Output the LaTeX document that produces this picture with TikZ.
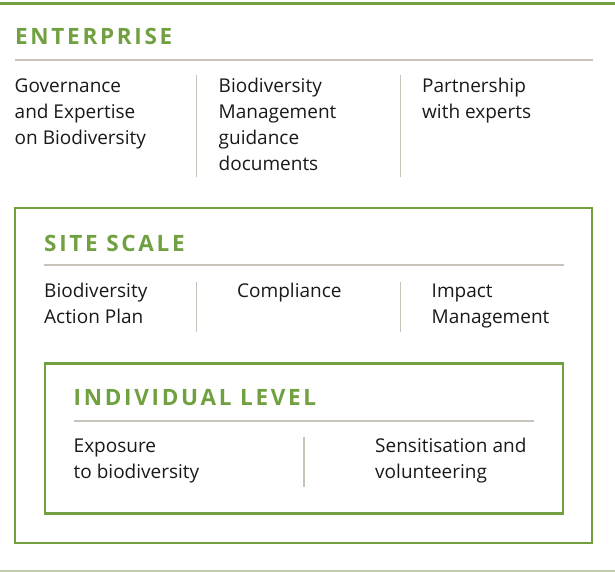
\documentclass[tikz,border=0pt]{standalone}
\usepackage{fontspec}
\setmainfont{Open Sans}
\newfontfamily\headfont[LetterSpace=12]{Open Sans}
\definecolor{leaf}{RGB}{112,160,64}
\definecolor{rulegrey}{RGB}{200,194,184}
\definecolor{ink}{RGB}{25,25,25}
\definecolor{baseline}{RGB}{190,204,170}
\tikzset{
  heading/.style={anchor=base west, inner sep=0pt, text=leaf, font=\headfont\bfseries\fontsize{22.5}{26}\selectfont},
  body/.style={anchor=base west, inner sep=0pt, align=left, text=ink, font=\fontsize{19}{26}\selectfont},
  greenbox/.style={draw=leaf, line width=2.6pt},
  hrule/.style={draw=rulegrey, line width=1.4pt},
  vrule/.style={draw=rulegrey, line width=1.2pt},
}
\begin{document}
\begin{tikzpicture}[x=1pt,y=-1pt]
\useasboundingbox (0,0) rectangle (615,572);
% top and bottom lines
\draw[draw=leaf, line width=2.6pt] (0,3.5) coordinate (tl) -- (615,3.5) coordinate (tr);
\draw[draw=baseline, line width=1.4pt] (0,570.8) coordinate (bl) -- (615,570.8) coordinate (br);

% ENTERPRISE (body nodes anchored at the baseline of their last line)
\node[heading] (ent) at (15,45) {ENTERPRISE};
\draw[hrule] (15,60) coordinate (er1) -- (593,60) coordinate (er2);
\node[body] (e1) at (14.5,144.5) {Governance\\and Expertise\\on Biodiversity};
\node[body] (e2) at (218.5,170.5) {Biodiversity\\Management\\guidance\\documents};
\node[body] (e3) at (422,118.5) {Partnership\\with experts};
\draw[vrule] (196.7,75) coordinate (ed1a) -- (196.7,177) coordinate (ed1b);
\draw[vrule] (400.5,75) coordinate (ed2a) -- (400.5,177) coordinate (ed2b);

% SITE SCALE
\draw[greenbox] (15,208) coordinate (s1) rectangle (592,543) coordinate (s2);
\node[heading] (site) at (44,251) {SITE SCALE};
\draw[hrule] (44,265) coordinate (sr1) -- (563.5,265) coordinate (sr2);
\node[body] (s1t) at (44,323) {Biodiversity\\Action Plan};
\node[body] (s2t) at (237,297) {Compliance};
\node[body] (s3t) at (431.5,323) {Impact\\Management};
\draw[vrule] (196.7,282) coordinate (sd1a) -- (196.7,332) coordinate (sd1b);
\draw[vrule] (400.5,282) coordinate (sd2a) -- (400.5,332) coordinate (sd2b);

% INDIVIDUAL LEVEL
\draw[greenbox] (45,363.5) coordinate (i1) rectangle (563,513.5) coordinate (i2);
\node[heading] (ind) at (73.5,405) {INDIVIDUAL LEVEL};
\draw[hrule] (74,421) coordinate (ir1) -- (534,421) coordinate (ir2);
\node[body] (i1t) at (73.5,478.5) {Exposure\\to biodiversity};
\node[body] (i2t) at (375,478.5) {Sensitisation and\\volunteering};
\draw[vrule] (304,436.5) coordinate (id1a) -- (304,487) coordinate (id1b);
\end{tikzpicture}
\end{document}
